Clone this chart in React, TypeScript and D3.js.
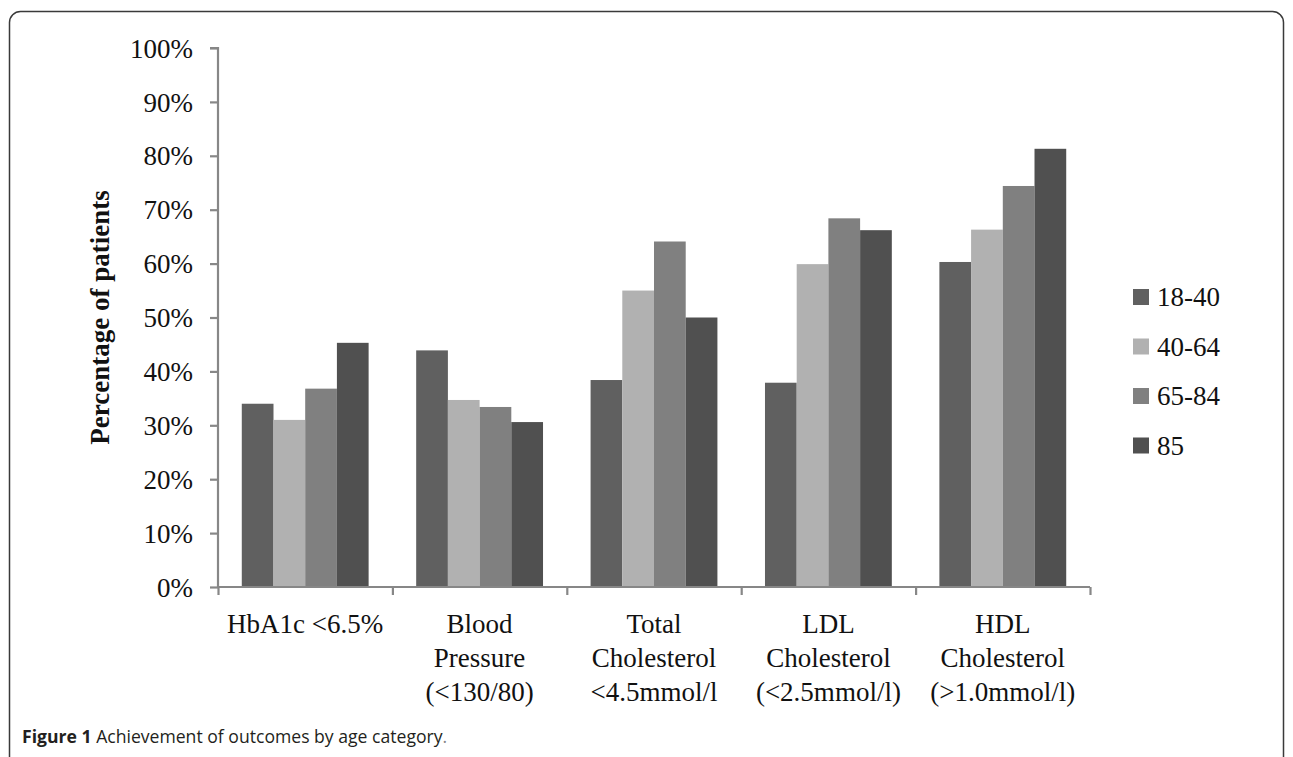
import React, { useEffect, useRef } from 'react';
import * as d3 from 'd3';

const categories = [
  ['HbA1c <6.5%'],
  ['Blood', 'Pressure', '(<130/80)'],
  ['Total', 'Cholesterol', '<4.5mmol/l'],
  ['LDL', 'Cholesterol', '(<2.5mmol/l)'],
  ['HDL', 'Cholesterol', '(>1.0mmol/l)'],
];
const ageGroups = ['18-40', '40-64', '65-84', '85'];
const groupColors = ['#606060', '#b1b1b1', '#808080', '#505050'];

const age18to40 = [34.0, 43.9, 38.4, 37.9, 60.3];
const age40to64 = [31.0, 34.7, 55.0, 59.9, 66.3];
const age65to84 = [36.8, 33.4, 64.1, 68.4, 74.4];
const age85 = [45.3, 30.6, 50.0, 66.2, 81.3];
const seriesValues = [age18to40, age40to64, age65to84, age85];

const yTicks = [0, 10, 20, 30, 40, 50, 60, 70, 80, 90, 100];

const W = 1293;
const H = 757;
const serif = '"Liberation Serif", "Times New Roman", serif';

export default function App() {
  const svgRef = useRef<SVGSVGElement>(null);

  useEffect(() => {
    if (!svgRef.current) return;
    const root = d3.select(svgRef.current);
    root.selectAll('*').remove();

    const left = 218;
    const right = 1090;
    const top = 48;
    const bottom = 587;

    // frame
    root
      .append('rect')
      .attr('x', 9.5)
      .attr('y', 11.5)
      .attr('width', 1274)
      .attr('height', 760)
      .attr('rx', 11)
      .attr('fill', 'white')
      .attr('stroke', '#3a3a3a')
      .attr('stroke-width', 1.5);

    const x = d3
      .scaleBand<number>()
      .domain(categories.map((_, i) => i))
      .range([left, right])
      .padding(0);

    const inner = d3
      .scaleBand<number>()
      .domain(ageGroups.map((_, i) => i))
      .range([0, x.bandwidth()])
      .paddingOuter(0.75)
      .paddingInner(0);

    const y = d3.scaleLinear().domain([0, 100]).range([bottom, top]);

    // bars
    seriesValues.forEach((vals, s) => {
      root
        .append('g')
        .selectAll('rect')
        .data(vals)
        .enter()
        .append('rect')
        .attr('x', (_, i) => (x(i) as number) + (inner(s) as number))
        .attr('y', (d) => y(d))
        .attr('width', inner.bandwidth())
        .attr('height', (d) => y(0) - y(d))
        .attr('fill', groupColors[s]);
    });

    const axisColor = '#878787';

    // y axis
    const yAxis = root
      .append('g')
      .attr('transform', `translate(${left},0)`)
      .call(
        d3
          .axisLeft(y)
          .tickValues(yTicks)
          .tickSize(8)
          .tickPadding(17)
          .tickFormat((d) => `${d}%`)
      );
    yAxis.select('.domain').attr('stroke', axisColor).attr('stroke-width', 2.2).attr('d', `M-8,${top}H0V${bottom}`);
    yAxis.selectAll('.tick line').attr('stroke', axisColor).attr('stroke-width', 2.2);
    yAxis
      .selectAll('.tick text')
      .attr('fill', '#111')
      .style('font-family', serif)
      .style('font-size', '27px')
      .attr('dy', '0.34em');

    // x axis
    const xb = d3.scaleLinear().domain([0, categories.length]).range([left, right]);
    const xAxis = root
      .append('g')
      .attr('transform', `translate(0,${bottom})`)
      .call(d3.axisBottom(xb).ticks(categories.length).tickSize(8).tickFormat(() => ''));
    xAxis.select('.domain').attr('stroke', axisColor).attr('stroke-width', 2.2).attr('d', `M${left},0H${right}`);
    xAxis.selectAll('.tick line').attr('stroke', axisColor).attr('stroke-width', 2.2);

    // category labels
    const labels = root
      .append('g')
      .selectAll('text')
      .data(categories)
      .enter()
      .append('text')
      .attr('text-anchor', 'middle')
      .attr('fill', '#111')
      .style('font-family', serif)
      .style('font-size', '27px');
    labels
      .selectAll('tspan')
      .data((d, i) => d.map((line) => ({ line, i })))
      .enter()
      .append('tspan')
      .attr('x', (d) => (x(d.i) as number) + x.bandwidth() / 2)
      .attr('y', (_, j) => 633 + j * 34)
      .text((d) => d.line);

    // y title
    root
      .append('text')
      .attr('transform', `translate(109,${(top + bottom) / 2}) rotate(-90)`)
      .attr('text-anchor', 'middle')
      .style('font-family', serif)
      .style('font-size', '27px')
      .style('font-weight', 'bold')
      .attr('fill', '#111')
      .text('Percentage of patients');

    // legend
    const legend = root
      .append('g')
      .selectAll('g')
      .data(ageGroups)
      .enter()
      .append('g')
      .attr('transform', (_, i) => `translate(1133,${297 + i * 49.5})`);
    legend
      .append('rect')
      .attr('x', 0)
      .attr('y', -8)
      .attr('width', 16)
      .attr('height', 16)
      .attr('fill', (_, i) => groupColors[i]);
    legend
      .append('text')
      .attr('x', 24)
      .attr('dy', '0.35em')
      .style('font-family', serif)
      .style('font-size', '27px')
      .attr('fill', '#111')
      .text((d) => d);

    // caption
    const cap = root
      .append('text')
      .attr('x', 22)
      .attr('y', 743)
      .style('font-family', '"Open Sans", "Noto Sans", sans-serif')
      .style('font-size', '17.6px')
      .attr('fill', '#231f20');
    cap.append('tspan').style('font-weight', 'bold').text('Figure 1 ');
    cap.append('tspan').text('Achievement of outcomes by age category');
    cap.append('tspan').attr('fill', '#888').text('.');
  }, []);

  return (
    <svg
      ref={svgRef}
      width={W}
      height={H}
      style={{ position: 'absolute', left: 0, top: 0, background: 'white' }}
    ></svg>
  );
}
